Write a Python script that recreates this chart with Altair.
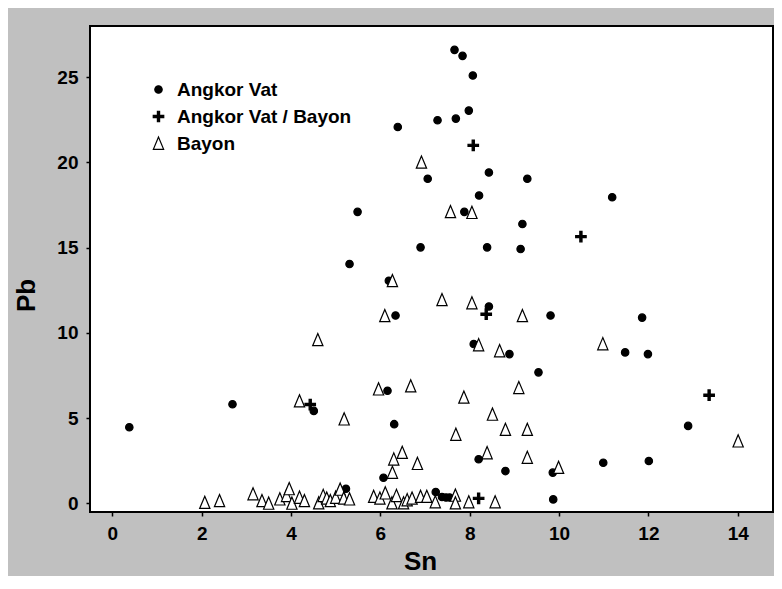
import altair as alt
import pandas as pd

# Angkor Vat (filled circles)
av_sn = [7.66, 7.84, 8.07, 7.98, 7.69, 7.28, 6.39, 7.06, 8.43, 9.29, 8.21, 11.19, 7.88, 5.49,
         9.18, 6.90, 8.39, 9.14, 5.31, 6.19, 8.43, 9.81, 11.86, 6.34, 8.09, 8.89, 11.48, 11.99,
         9.54, 6.16, 6.31, 12.89, 8.20, 10.99, 12.01, 9.86, 6.07, 8.80, 9.87, 0.38, 2.69, 4.51,
         5.23, 7.24, 7.38, 7.47, 7.55]
av_pb = [26.6, 26.25, 25.1, 23.04, 22.57, 22.47, 22.08, 19.04, 19.41, 19.04, 18.06, 17.96, 17.1, 17.1,
         16.39, 15.02, 15.02, 14.92, 14.04, 13.06, 11.55, 11.02, 10.9, 11.02, 9.35, 8.76, 8.86, 8.76,
         7.69, 6.61, 4.65, 4.55, 2.59, 2.39, 2.49, 1.81, 1.51, 1.9, 0.24, 4.47, 5.82, 5.43,
         0.86, 0.67, 0.38, 0.35, 0.35]

# Angkor Vat / Bayon (plus)
ab_sn = [8.08, 10.49, 8.37, 4.43, 13.36, 8.20]
ab_pb = [21.0, 15.65, 11.1, 5.8, 6.35, 0.3]

# Bayon (open triangles)
by_sn = [6.92, 7.57, 8.05, 6.27, 7.38, 8.05, 6.10, 9.18, 4.60, 8.20, 8.67, 10.98, 5.96, 6.68,
         9.10, 7.87, 4.19, 8.51, 5.19, 7.69, 8.80, 9.29, 14.01, 6.49, 6.30, 6.83, 8.39, 9.29,
         9.99, 6.27, 8.57,
         2.07, 2.40, 3.15, 3.35, 3.50, 3.75, 3.90, 3.96, 4.02, 4.19, 4.30, 4.62, 4.72, 4.80,
         4.88, 5.00, 5.10, 5.18, 5.31, 5.85, 5.99, 6.11, 6.26, 6.36, 6.52, 6.60, 6.71, 6.90,
         7.04, 7.23, 7.68, 7.68, 7.98]
by_pb = [20.0, 17.1, 17.05, 13.05, 11.94, 11.75, 11.0, 11.0, 9.59, 9.29, 8.94, 9.35, 6.7, 6.88,
         6.78, 6.22, 6.0, 5.22, 4.94, 4.04, 4.33, 4.33, 3.65, 2.98, 2.59, 2.33, 2.96, 2.69,
         2.1, 1.81, 0.08,
         0.05, 0.15, 0.55, 0.15, 0.0, 0.25, 0.45, 0.85, 0.0, 0.35, 0.15, 0.02, 0.45, 0.3,
         0.15, 0.35, 0.82, 0.3, 0.25, 0.4, 0.3, 0.6, 0.02, 0.45, 0.02, 0.2, 0.3, 0.4,
         0.4, 0.08, 0.47, 0.02, 0.08]

groups = ["Angkor Vat", "Angkor Vat / Bayon", "Bayon"]
x_ticks = [0, 2, 4, 6, 8, 10, 12, 14]
y_ticks = [0, 5, 10, 15, 20, 25]

rows = []
for g, xs, ys in [(groups[0], av_sn, av_pb), (groups[1], ab_sn, ab_pb), (groups[2], by_sn, by_pb)]:
    for x, y in zip(xs, ys):
        rows.append({"Sn": x, "Pb": y, "site": g})
df = pd.DataFrame(rows)

plus_path = "M-0.21,-1H0.21V-0.21H1V0.21H0.21V1H-0.21V0.21H-1V-0.21H-0.21Z"
tri_path = "M0,-1L-0.8,0.9L0.8,0.9Z"

FONT = "Liberation Sans"
leg = alt.Legend(title=None, orient="none", legendX=59, legendY=54,
                 labelFont=FONT, labelFontSize=19, labelFontWeight="bold", labelColor="black",
                 labelLimit=400, symbolStrokeWidth=1.2, rowPadding=7,
                 labelOffset=9, padding=0)

chart = alt.Chart(df).mark_point(filled=True, strokeWidth=1.2, opacity=1).encode(
    x=alt.X("Sn:Q", scale=alt.Scale(domain=[-0.5, 14.79], nice=False, zero=False),
            axis=alt.Axis(values=x_ticks, title="Sn",
                          titleX=330, titleY=49, titleBaseline="middle",
                          titleAlign="center")),
    y=alt.Y("Pb:Q", scale=alt.Scale(domain=[-0.5, 28], nice=False, zero=False),
            axis=alt.Axis(values=y_ticks, title="Pb",
                          titleX=-64, titleY=269, titleBaseline="middle", titleAlign="center",
                          titleAngle=270)),
    shape=alt.Shape("site:N", scale=alt.Scale(domain=groups, range=["circle", plus_path, tri_path]),
                    legend=leg),
    fill=alt.Fill("site:N", scale=alt.Scale(domain=groups, range=["black", "black", "white"]),
                  legend=leg),
    stroke=alt.Stroke("site:N", scale=alt.Scale(domain=groups, range=["black", "black", "black"]),
                      legend=leg),
    size=alt.Size("site:N", scale=alt.Scale(domain=groups, range=[55, 165, 100]), legend=leg),
).properties(
    width=683, height=486,
    autosize=alt.AutoSizeParams(type="none"),
    padding={"left": 82, "top": 18, "right": 1, "bottom": 64},
    background="#c0c0c0",
).configure_view(
    fill="white", stroke="black", strokeWidth=2
).configure_axis(
    grid=False, domain=False, ticks=True, tickSize=4, tickColor="black", tickWidth=1.5,
    labelFont=FONT, labelFontSize=19, labelFontWeight="bold", labelColor="black",
    titleFont=FONT, titleFontSize=26, titleFontWeight="bold", titleColor="black",
    labelPadding=8
)

chart.save("out.html", embed_options={"renderer": "svg", "actions": False})
